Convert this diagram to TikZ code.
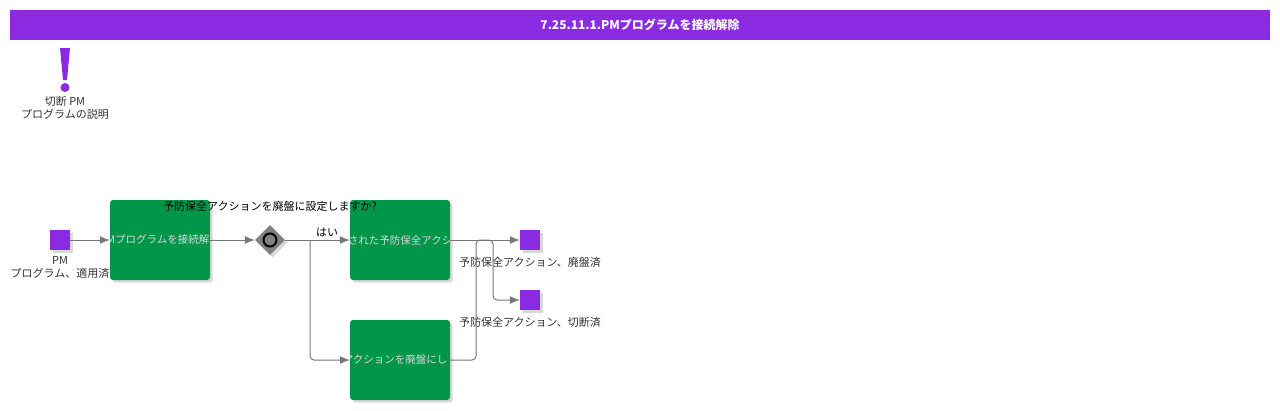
\documentclass[tikz,border=0pt]{standalone}
\usepackage{fontspec}
\setmainfont{Noto Sans CJK JP}
\usetikzlibrary{positioning,shapes.geometric,shadows,arrows.meta}

\definecolor{bpurple}{HTML}{8A2BE2}
\definecolor{bgreen}{HTML}{009649}
\definecolor{bline}{HTML}{777777}
\definecolor{btext}{HTML}{333333}

\tikzset{
	shade/.style = {drop shadow = {shadow xshift = 2.5pt,
								   shadow yshift = -2.5pt,
								   fill = black!30}},
	event/.style = {fill = bpurple, minimum size = 20pt,
					inner sep = 0pt, shade},
	task/.style = {fill = bgreen, minimum width = 100pt,
				   minimum height = 80pt, rounded corners = 3pt,
				   inner sep = 0pt, shade},
	gate/.style = {diamond, fill = gray, minimum width = 30pt,
				   minimum height = 30pt, inner sep = 0pt, shade},
	lbl/.style = {inner sep = 0pt, align = center, text = btext,
				  font = \fontsize{11}{13}\selectfont},
	intext/.style = {inner sep = 0pt, text = white!85!black,
				  font = \fontsize{10.5}{13}\selectfont},
	flow/.style = {draw = bline, line width = 1pt,
				   -{Latex[length = 10pt, width = 8pt]},
				   rounded corners = 4pt}
}

\begin{document}
\begin{tikzpicture}[x = 1pt, y = -1pt]
	\useasboundingbox (0,0) rectangle (1280,410);

	% title bar
	\node[fill = bpurple, minimum width = 1260pt, minimum height = 30pt,
		  text = white, font = \fontsize{12}{14}\selectfont\bfseries]
		  (title) at (640,25) {7.25.11.1.PMプログラムを接続解除};

	% annotation
	\begin{scope}[shade]
		\fill[bpurple] (60,48) -- (70,48) -- (67,80) -- (63,80) -- cycle;
	\end{scope}
	\fill[bpurple] (65,87.5) circle (4.5);
	\node[lbl] (note) at (65,107.5) {切断 PM\\プログラムの説明};

	% nodes
	\node[event] (start) at (60,240) {};
	\node[lbl, below = 6.5pt of start] (startlbl)
		{PM\\プログラム、適用済};

	\node[task, path picture = {\node[intext]
		at (path picture bounding box.center)
		{PMプログラムを接続解除};}] (disc) at (160,240) {};

	\node[gate] (gw) at (270,240) {};
	\draw[line width = 2pt] (gw.center) circle (6.5);

	\node[task, path picture = {\node[intext]
		at (path picture bounding box.center)
		{された予防保全アクシ};}] (obs) at (400,240) {};

	\node[task, path picture = {\node[intext, xshift = -5pt]
		at (path picture bounding box.center)
		{アクションを廃盤にし};}] (cut) at (400,360) {};

	\node[lbl, text = black, above = 13pt of gw] (question)
		{予防保全アクションを廃盤に設定しますか?};

	\node[event] (done1) at (530,240) {};
	\node[lbl, below = 6.5pt of done1] (done1lbl)
		{予防保全アクション、廃盤済};

	\node[event] (done2) at (530,300) {};
	\node[lbl, below = 6.5pt of done2] (done2lbl)
		{予防保全アクション、切断済};

	\coordinate (split) at (310,240);
	\coordinate (up) at (476,240);
	\coordinate (over) at (493,240);

	% connectors
	\draw[flow] (start) -- (disc);
	\draw[flow] (disc) -- (gw);
	\draw[flow] (gw) -- (obs)
		node[lbl, text = black, pos = 0.65, above = 3pt] (yes) {はい};
	\draw[flow] (split) |- (cut);
	\draw[flow] (obs) -- (done1);
	\draw[flow] (cut.east) -| (up) -- (over) |- (done2);
\end{tikzpicture}
\end{document}
